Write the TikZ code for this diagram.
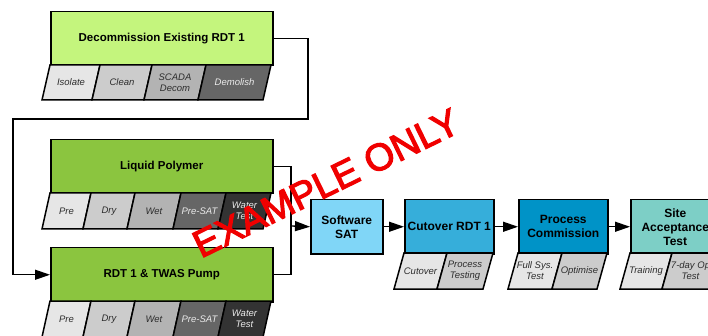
\documentclass[tikz,border=0pt]{standalone}
\usepackage{fontspec}
\setmainfont{Liberation Sans}
\newfontfamily\stampfont[FakeBold=3]{Liberation Sans}
\usetikzlibrary{arrows.meta}

\definecolor{decgreen}{RGB}{196,245,125}
\definecolor{polygreen}{RGB}{139,197,63}
\definecolor{satblue}{RGB}{128,214,247}
\definecolor{cutblue}{RGB}{54,174,218}
\definecolor{comblue}{RGB}{0,147,199}
\definecolor{siteteal}{RGB}{125,207,198}
\definecolor{g1}{RGB}{230,230,230}
\definecolor{g2}{RGB}{204,204,204}
\definecolor{g3}{RGB}{179,179,179}
\definecolor{g4}{RGB}{102,102,102}
\definecolor{g5}{RGB}{51,51,51}
\definecolor{darktext}{RGB}{45,45,45}
\definecolor{lighttext}{RGB}{235,235,235}
\definecolor{stampred}{RGB}{240,0,0}

\tikzstyle{mainbox} = [rectangle, anchor=north west, minimum width=222pt, minimum height=54pt, inner sep=0pt, text centered, align=center, draw=black, line width=1.5pt, font=\fontsize{11.5}{14}\selectfont\bfseries]
\tikzstyle{stagebox} = [mainbox, minimum width=89pt, font=\fontsize{12}{14}\selectfont\bfseries]
\tikzstyle{seg} = [draw=black, line width=1.5pt]
\tikzstyle{segtext} = [inner sep=0pt, align=center, font=\fontsize{9.5}{11}\selectfont\itshape]
\tikzstyle{line} = [line width=1.3pt]
\tikzstyle{arrow} = [line, -{Triangle[length=15pt,width=10pt]}]

\begin{document}
\begin{tikzpicture}[x=1pt, y=-1pt]
    \useasboundingbox (0,0) rectangle (708,336);

    % Main boxes
    \node (decom) [mainbox, fill=decgreen] at (50,11) {Decommission Existing RDT 1};
    \node (poly) [mainbox, fill=polygreen] at (50,139) {Liquid Polymer};
    \node (pump) [mainbox, fill=polygreen] at (50,247) {RDT 1 \& TWAS Pump};
    \node (sat) [stagebox, fill=satblue, minimum width=72pt] at (310,199) {Software\\SAT};
    \node (cut) [stagebox, fill=cutblue] at (404,199) {Cutover RDT 1};
    \node (com) [stagebox, fill=comblue] at (518,199) {Process\\Commission};
    \node (site) [stagebox, fill=siteteal] at (630,199) {Site\\Acceptance\\Test};

    % Sub-steps
    \foreach \a/\b/\c/\t/\f [count=\i] in {50/100/g1/Isolate/darktext, 100/152/g2/Clean/darktext, 152/206/g3/{SCADA\\Decom}/darktext, 206/271/g4/Demolish/lighttext}
    {
        \draw[seg, fill=\c] (\a,65) -- (\b,65) -- (\b-8,100) -- (\a-8,100) -- cycle;
        \node (decom\i) [segtext, text=\f] at ({(\a+\b)/2-4},82.5) {\t};
    }
    \foreach \a/\b/\c/\t/\f [count=\i] in {50/91/g1/Pre/darktext, 91/135/g2/Dry/darktext, 135/181/g3/Wet/darktext, 181/226/g4/Pre-SAT/lighttext, 226/271/g5/{Water\\Test}/lighttext}
    {
        \draw[seg, fill=\c] (\a,193) -- (\b,193) -- (\b-8,229) -- (\a-8,229) -- cycle;
        \node (poly\i) [segtext, text=\f] at ({(\a+\b)/2-4},211) {\t};
        \draw[seg, fill=\c] (\a,301) -- (\b,301) -- (\b-8,337) -- (\a-8,337) -- cycle;
        \node (pump\i) [segtext, text=\f] at ({(\a+\b)/2-4},319) {\t};
    }
    \foreach \a/\b/\c/\t [count=\i] in {404/447/g1/Cutover, 447/493/g2/{Process\\Testing}, 518/562/g1/{Full Sys.\\Test}, 562/607/g2/Optimise, 630/672/g1/Training, 672/719/g2/{7-day Op\\Test}}
    {
        \draw[seg, fill=\c] (\a,253) -- (\b,253) -- (\b-10,289) -- (\a-10,289) -- cycle;
        \node (stage\i) [segtext, text=darktext] at ({(\a+\b)/2-5},271) {\t};
    }

    % Connectors
    \coordinate (loopR) at (308,119);
    \coordinate (loopL) at (13,119);
    \coordinate (join) at (291,226);
    \draw [arrow] (decom.east) -| (loopR) -- (loopL) |- (pump.west);
    \draw [line] (poly.east) -| (join);
    \draw [line] (pump.east) -| (join);
    \draw [arrow] (join) -- (sat.west);
    \draw [arrow] (sat.east) -- (cut.west);
    \draw [arrow] (cut.east) -- (com.west);
    \draw [arrow] (com.east) -- (site.west);

    % Watermark
    \node (stamp) [rotate=26, text=stampred, font=\stampfont\fontsize{38}{40}\selectfont] at (326,183) {EXAMPLE ONLY};
\end{tikzpicture}
\end{document}
